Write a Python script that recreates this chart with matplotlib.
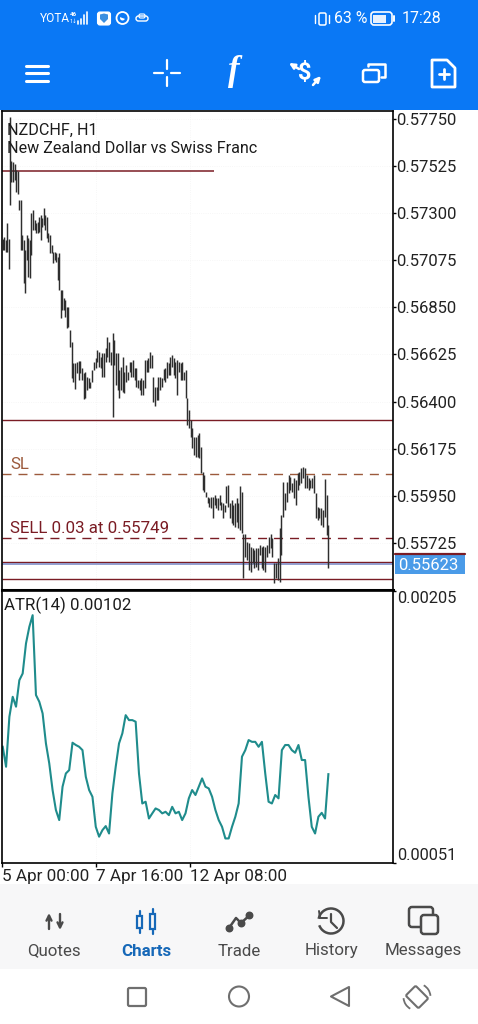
import numpy as np
import matplotlib
matplotlib.use('Agg')
import matplotlib.pyplot as plt
import matplotlib.patches as patches

plt.rcParams['font.family'] = ['Roboto', 'DejaVu Sans']

# Bar highs / lows of NZDCHF H1, in points (1e-5)
bar_highs = [57177,57186,57172,57253,57177,57760,57549,57545,57535,57506,57502,57363,57363,57196,57172,57124,57196,57182,57172,57301,
	57315,57268,57253,57258,57282,57291,57277,57325,57291,57282,57205,57196,57148,57115,57115,57110,57091,57110,56933,56933,
	56895,56885,56852,56852,56742,56685,56584,56584,56589,56594,56594,56561,56537,56541,56518,56513,56494,56551,56589,56608,
	56646,56637,56613,56632,56632,56656,56708,56685,56637,56728,56694,56632,56632,56551,56565,56613,56541,56575,56541,56589,
	56589,56599,56561,56561,56503,56503,56513,56503,56599,56599,56608,56637,56623,56518,56470,56470,56518,56518,56513,56556,
	56561,56589,56584,56613,56623,56608,56589,56599,56589,56584,56589,56541,56551,56417,56360,56312,56274,56231,56231,56240,
	56250,56183,56064,56049,55968,55944,55939,55944,55944,55954,55939,55939,55954,55920,55916,55906,55997,56002,55916,55930,
	55906,55916,55939,55916,55997,55968,55767,55767,55729,55725,55705,55701,55691,55701,55701,55715,55705,55710,55705,55715,
	55753,55767,55748,55629,55629,55653,55796,55858,56016,55963,56016,56049,56040,56011,56035,56025,56059,56064,56083,56088,
	56083,56049,56035,56025,56035,56049,55963,55897,55892,55892,55882,56030,55954,55811]
bar_lows = [57124,57124,57115,57115,57033,57339,57449,57449,57459,57401,57392,57315,57124,57124,56967,56919,57076,56995,56990,57100,
	57220,57220,57205,57205,57210,57172,57234,57244,57220,57182,57162,57110,57110,57062,57076,57067,56981,56933,56799,56838,
	56838,56804,56752,56756,56661,56513,56494,56460,56537,56503,56537,56503,56412,56417,56455,56465,56465,56494,56551,56561,
	56589,56565,56561,56518,56518,56589,56613,56589,56575,56326,56575,56479,56455,56417,56455,56446,56441,56494,56503,56541,
	56518,56518,56503,56470,56465,56455,56432,56432,56465,56541,56541,56561,56561,56398,56379,56408,56408,56455,56470,56503,
	56494,56513,56527,56527,56565,56527,56513,56432,56541,56503,56503,56503,56417,56288,56274,56231,56178,56145,56135,56135,
	56130,56059,55978,55968,55944,55916,55897,55892,55844,55906,55892,55882,55906,55882,55844,55873,55916,55897,55844,55820,
	55811,55801,55825,55796,55787,55772,55557,55658,55643,55596,55586,55629,55605,55610,55596,55667,55605,55596,55586,55658,
	55677,55701,55658,55533,55557,55548,55538,55667,55849,55882,55920,55963,55978,55968,55939,55906,55978,56002,56011,56035,
	55987,55987,55978,55987,55987,55963,55844,55834,55844,55811,55801,55849,55763,55605]

# Hour position of some bars, where my readings are not one per hour
anchor_bars = [0, 5, 44, 69, 146, 193]
anchor_hours = [0.7, 5.4, 46.3, 75.3, 164.4, 222.2]

atr_values = [116.8,105.5,133.8,145.1,139.5,154.5,158.3,175.3,184.7,191.3,146.1,142.3,135.7,118.7,107.4,92.3,81.0,75.3,94.2,101.7,
	103.6,119.1,117.8,116.8,114.9,99.8,92.3,88.5,71.5,65.9,69.6,71.9,67.7,90.4,105.5,118.7,124.4,134.7,131.9,131.9,
	131.0,101.7,84.7,85.7,76.2,79.1,81.9,81.0,79.1,80.0,78.1,82.8,79.1,80.0,75.3,79.1,87.6,92.3,89.5,94.2,
	98.9,94.2,93.2,88.5,81.0,75.3,71.5,64.9,64.9,71.5,77.2,84.7,111.2,114.9,120.6,119.6,119.6,116.8,119.6,101.7,
	85.7,84.7,89.5,87.6,114.9,117.8,117.8,114.9,113.4,117.8,109.3,109.3,88.5,71.5,67.7,77.2,79.4,76.2,101.3]

price_ticks = [0.57750,0.57525,0.57300,0.57075,0.56850,0.56625,0.56400,0.56175,0.55950,0.55725]
time_ticks = [0, 64, 128]
time_labels = ['5 Apr 00:00', '7 Apr 16:00', '12 Apr 08:00']
red_levels = [0.56312, 0.55634, 0.55553]
upper_level = 0.57502
sl_level = 0.56055
sell_level = 0.55749
last_price = 0.55623

BLUE = '#0a78f5'
DARK = '#4a4a4a'
NAVBLUE = '#1668b8'
RED = '#7a1c24'

fig = plt.figure(figsize=(4.78, 10.24), dpi=100, facecolor='white')


def px_axes(left, top, right, bottom, **kw):
	return fig.add_axes([left/478, 1-bottom/1024, (right-left)/478, (bottom-top)/1024], **kw)


# Everything around the chart is drawn in pixel coordinates
bg = fig.add_axes([0, 0, 1, 1])
bg.set_xlim(0, 478)
bg.set_ylim(1024, 0)
bg.axis('off')

bg.add_patch(patches.Rectangle((0, 0), 478, 110, color=BLUE, lw=0))
bg.add_patch(patches.Rectangle((0, 884), 478, 85, color='#f7f7f8', lw=0))


def line(xs, ys, color='white', lw=2.0, **kw):
	bg.plot(xs, ys, color=color, lw=lw, solid_capstyle='round', **kw)


def round_box(x, y, w, h, r, ec='white', lw=1.8, fc='none', angle=0):
	box = patches.FancyBboxPatch((x, y), w, h, boxstyle='round,pad=0,rounding_size=%g' % r, ec=ec, fc=fc, lw=lw)
	if angle:
		box.set_transform(matplotlib.transforms.Affine2D().rotate_deg_around(x+w/2, y+h/2, angle) + bg.transData)
	bg.add_patch(box)


def arrow(x0, y0, x1, y1, color='white', lw=1.8, size=8, style='-|>'):
	bg.annotate('', xy=(x1, y1), xytext=(x0, y0),
		arrowprops=dict(arrowstyle=style, color=color, lw=lw, mutation_scale=size, shrinkA=0, shrinkB=0))


# Status bar
bg.text(40, 18.5, 'YOTA', color='white', fontsize=8.6, va='center')
bg.text(70, 14, '46', color='white', fontsize=4.5, va='center', weight='bold')
bg.text(70, 21, '1↓', color='white', fontsize=4, va='center')
for i, h in enumerate([3, 5, 9, 12]):
	line([78+i*3, 78+i*3], [24, 24-h], lw=1.2)
round_box(97.5, 12, 13, 13, 2.5, fc='white', lw=0.8)
bg.add_patch(patches.Polygon([[100, 14.5], [104, 13.5], [108, 14.5], [108, 19], [104, 23], [100, 19]], color='#3b8fe0', lw=0))
bg.add_patch(patches.Circle((122.5, 18), 6, ec='white', fc='none', lw=1.3))
bg.add_patch(patches.Wedge((122.5, 18), 2.5, 20, 200, color='white', lw=0))
round_box(136, 16, 12, 5, 2.5, lw=1.0)
round_box(139, 14, 6, 4, 1.5, lw=0.8)
round_box(319, 13, 7, 12, 1.5, lw=1.1)
line([315, 315], [15, 23], lw=1.0)
line([329, 329], [15, 23], lw=1.0)
bg.text(334, 18.5, '63 %', color='white', fontsize=11.4, va='center')
round_box(371, 12, 21, 13, 3, lw=1.2)
bg.add_patch(patches.Rectangle((373, 14.5), 13, 8, color='#e6f1fe', lw=0))
line([394, 394], [16, 21], lw=1.4)
bg.text(402, 18.5, '17:28', color='white', fontsize=11.4, va='center')

# Tool bar
for y in [65.5, 73, 80.5]:
	line([26, 48], [y, y], lw=2.2)
for seg in [([154, 163], [73, 73]), ([171, 180], [73, 73]), ([167, 167], [60, 69]), ([167, 167], [77, 86])]:
	line(seg[0], seg[1], lw=1.6)
bg.text(234, 72, 'f', color='white', fontsize=25, family='Liberation Serif', style='italic', weight='bold', ha='center', va='center')
bg.text(305, 73, '$', color='white', fontsize=17, weight='bold', ha='center', va='center')
arrow(299, 69, 289, 63, lw=1.8, size=8)
arrow(313, 85, 321, 76, lw=1.8, size=8)
round_box(363, 70, 16, 12, 2)
line([368, 368, 385, 385, 381], [66, 64, 64, 77, 77], lw=1.8)
bg.add_patch(patches.Polygon([[434, 60], [447, 60], [455, 68], [455, 87], [432, 87], [432, 60]], ec='white', fc='none', lw=2, joinstyle='round'))
line([439, 449], [74, 74], lw=2)
line([444, 444], [69, 79], lw=2)

# Price chart
ax = px_axes(2, 111, 393, 590, facecolor='white')
hours = np.interp(np.arange(len(bar_highs)), anchor_bars, anchor_hours)
ax.vlines(hours, np.array(bar_lows)/1e5, np.array(bar_highs)/1e5, color='#2e2e2e', lw=1.05, zorder=3)
ax.hlines(red_levels, 0, 266.2, color=RED, lw=1.0, zorder=2)
ax.hlines(upper_level, 0, 144, color=RED, lw=1.1, zorder=2)
ax.hlines(last_price, 0, 266.2, color='#8a96cc', lw=1.3, zorder=2)
ax.hlines(sl_level, 0, 266.2, color='#9c5a3c', lw=1.0, linestyles=(0, (6.5, 5)), zorder=2)
ax.hlines(sell_level, 0, 266.2, color=RED, lw=1.0, linestyles=(0, (6.5, 5)), zorder=2)
ax.set_xlim(0, 266.2)
ax.set_ylim(0.55500, 0.57788)
ax.yaxis.tick_right()
ax.set_yticks(price_ticks)
ax.set_yticklabels(['%.5f' % v for v in price_ticks], fontsize=12, color='#222222')
ax.tick_params(axis='y', length=2.5, width=1, pad=0)
ax.set_xticks(time_ticks)
ax.tick_params(axis='x', length=0, labelbottom=False)
ax.grid(True, color='#f4f4f4', lw=0.6, ls=':')
ax.set_axisbelow(True)
for s in ax.spines.values():
	s.set_linewidth(1.2)
ax.spines['bottom'].set_linewidth(2.2)
ax.text(5/391, 1-19/479, 'NZDCHF, H1', transform=ax.transAxes, fontsize=11.6, va='center', color='#1c1c1c', zorder=5)
ax.text(5/391, 1-37.5/479, 'New Zealand Dollar vs Swiss Franc', transform=ax.transAxes, fontsize=11.6, va='center', color='#1c1c1c', zorder=5)
ax.text(5.5, sl_level+0.00008, 'SL', fontsize=12.2, color='#9c5a3c', va='bottom')
ax.text(5.5, sell_level+0.00008, 'SELL 0.03 at 0.55749', fontsize=12.2, color=RED, va='bottom')

# Last price tag
bg.add_patch(patches.Rectangle((395, 554), 70, 20, color='#4a9be8', lw=0))
line([395, 465], [553.5, 553.5], color=RED, lw=1.6)
bg.text(398, 565, '%.5f' % last_price, color='white', fontsize=12, va='center')

# ATR panel
ax2 = px_axes(2, 591, 393, 863, facecolor='white')
atr_hours = np.linspace(0.5, 222.2, len(atr_values))
ax2.plot(atr_hours, np.array(atr_values)/1e5, color='#1f8c8c', lw=1.5)
ax2.set_xlim(0, 266.2)
ax2.set_ylim(0.00051, 0.00205)
ax2.set_xticks(time_ticks)
ax2.set_xticklabels(time_labels, fontsize=12.3, color='#222222', ha='left')
ax2.tick_params(axis='x', length=3, width=1, pad=1)
ax2.yaxis.tick_right()
ax2.set_yticks([0.00051, 0.00205])
ax2.set_yticklabels(['0.00051', '0.00205'], fontsize=11.8, color='#222222')
ax2.get_yticklabels()[0].set_va('bottom')
ax2.get_yticklabels()[1].set_va('top')
ax2.tick_params(axis='y', length=2, width=1, pad=1)
ax2.grid(True, axis='x', color='#f4f4f4', lw=0.6, ls=':')
ax2.set_axisbelow(True)
for s in ax2.spines.values():
	s.set_linewidth(1.2)
ax2.text(2/391, 1-14/272, 'ATR(14) 0.00102', transform=ax2.transAxes, fontsize=12.1, va='center', color='#1c1c1c')

# Bottom navigation
nav_items = [('Quotes', 54, DARK, 'normal'), ('Charts', 146.5, NAVBLUE, 'bold'), ('Trade', 239, DARK, 'normal'),
	('History', 331.5, DARK, 'normal'), ('Messages', 423, DARK, 'normal')]
for name, x, col, w in nav_items:
	bg.text(x, 951, name, color=col, fontsize=12.2, weight=w, ha='center', va='center')

# Quotes arrows
arrow(49, 929, 49, 913, color=DARK, lw=1.7, size=9, style='->')
arrow(60, 914, 60, 930, color=DARK, lw=1.7, size=9, style='->')
# Charts candles
for x, top, bot in [(140, 911, 933), (153, 909, 934)]:
	line([x, x], [top, bot], color=NAVBLUE, lw=1.6)
	bg.add_patch(patches.Rectangle((x-2.5, top+5), 5, bot-top-10, ec=NAVBLUE, fc='#f7f7f8', lw=1.6, zorder=3))
# Trade line
line([229, 236, 241, 251], [928, 918, 923, 914], color=DARK, lw=1.8)
bg.scatter([229, 241, 249], [928, 923, 915], s=22, color=DARK, zorder=3)
# History clock
bg.add_patch(patches.Arc((331, 921), 25, 25, theta1=-170, theta2=160, ec=DARK, lw=1.8))
line([331, 331, 337], [914, 922, 928], color=DARK, lw=1.6)
line([319, 320, 327], [911, 918, 918], color=DARK, lw=1.4)
# Messages bubbles
round_box(409, 907, 24, 20, 3, ec=DARK, lw=1.8)
round_box(421, 915, 17, 19, 3, ec=DARK, lw=1.8, fc='#f7f7f8')

# System buttons
GREY = '#6f6f6f'
round_box(128, 988, 18, 18, 1.5, ec=GREY, lw=1.6)
bg.add_patch(patches.Circle((239, 996.5), 10, ec=GREY, fc='none', lw=1.5))
bg.add_patch(patches.Polygon([[349, 987], [349, 1006], [331, 996.5]], ec=GREY, fc='none', lw=1.5, joinstyle='round'))
round_box(410, 988, 14, 18, 1.5, ec=GREY, lw=1.5, angle=-45)
bg.add_patch(patches.Arc((417, 997), 27, 27, theta1=-60, theta2=-5, ec=GREY, lw=1.3))
bg.add_patch(patches.Arc((417, 997), 27, 27, theta1=120, theta2=175, ec=GREY, lw=1.3))

fig.savefig('out.png', dpi=100)
